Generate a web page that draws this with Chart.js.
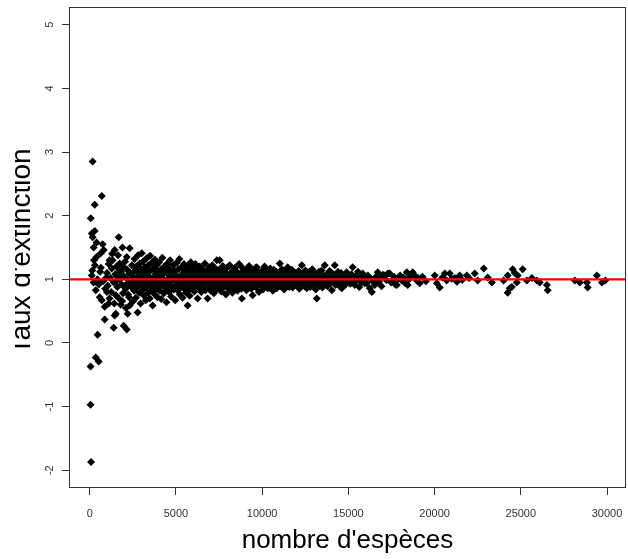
<!DOCTYPE html>
<html>
<head>
<meta charset="utf-8">
<title>Taux d'extinction</title>
<script src="https://cdn.jsdelivr.net/npm/chart.js"></script>
<style>
  body { margin: 0; background: #fff; }
  #wrap { width: 628px; height: 559px; }
</style>
</head>
<body>
<div id="wrap"><canvas id="tauxChart"></canvas></div>
<script>
// nombre d'espèces (x) et taux d'extinction (y), par tranches
const especes = [
  50, 50, 60, 80, 120, 120, 150, 170, 170, 230,
  230, 250, 290, 290, 300, 350, 350, 400, 400, 450,
  460, 520, 520, 580, 600, 640, 650, 700, 700, 750,
  780, 810, 870, 870, 900, 950,
  // 1000 - 2500
  1000, 1000, 1050, 1100, 1100, 1150, 1150, 1200, 1250, 1280,
  1300, 1330, 1390, 1400, 1420, 1450, 1450, 1480, 1510, 1520,
  1550, 1580, 1600, 1620, 1640, 1680, 1700, 1720, 1740, 1760,
  1800, 1820, 1850, 1880, 1900, 1930, 1950, 1970, 1990, 2020,
  2050, 2080, 2100, 2120, 2150, 2150, 2180, 2200, 2230, 2250,
  2280, 2300, 2320, 2320, 2350, 2380, 2420, 2450, 2470, 2500,
  // 2500 - 4000
  2520, 2550, 2580, 2600, 2620, 2650, 2680, 2700, 2720, 2750,
  2780, 2800, 2820, 2850, 2880, 2900, 2930, 2950, 2980, 3000,
  3020, 3050, 3080, 3100, 3130, 3150, 3180, 3200, 3230, 3250,
  3280, 3300, 3330, 3350, 3380, 3400, 3430, 3450, 3480, 3500,
  3530, 3550, 3580, 3600, 3630, 3650, 3680, 3700, 3730, 3750,
  3780, 3800, 3830, 3850, 3880, 3900, 3930, 3950, 3980,
  // 4000 - 6000
  4000, 4030, 4060, 4090, 4120, 4150, 4180, 4210, 4240, 4270,
  4300, 4330, 4360, 4390, 4420, 4450, 4480, 4510, 4540, 4570,
  4600, 4630, 4660, 4690, 4720, 4750, 4780, 4810, 4840, 4870,
  4900, 4930, 4960, 4990, 5020, 5050, 5080, 5110, 5140, 5170,
  5200, 5230, 5260, 5290, 5320, 5350, 5380, 5410, 5440, 5470,
  5500, 5530, 5560, 5590, 5620, 5650, 5680, 5680, 5710, 5740,
  5770, 5800, 5830, 5860, 5890, 5920, 5950, 5980,
  // 6000 - 9000
  6010, 6040, 6070, 6100, 6130, 6160, 6190, 6220, 6260, 6290,
  6320, 6350, 6380, 6410, 6440, 6470, 6500, 6530, 6560, 6590,
  6620, 6650, 6680, 6710, 6740, 6770, 6800, 6840, 6870, 6900,
  6930, 6960, 6990, 7020, 7050, 7080, 7110, 7140, 7170, 7200,
  7230, 7260, 7290, 7320, 7370, 7400, 7430, 7460, 7490, 7540,
  7570, 7600, 7630, 7660, 7690, 7720, 7750, 7780, 7810, 7840,
  7870, 7900, 7930, 7960, 7990, 8020, 8050, 8080, 8120, 8150,
  8180, 8210, 8240, 8270, 8300, 8330, 8360, 8390, 8420, 8450,
  8480, 8510, 8540, 8570, 8600, 8630, 8660, 8690, 8720, 8750,
  8790, 8820, 8820, 8850, 8880, 8910, 8940, 8970,
  // 9000 - 12000
  9000, 9030, 9060, 9090, 9120, 9150, 9180, 9210, 9240, 9270,
  9300, 9330, 9360, 9390, 9420, 9450, 9480, 9510, 9540, 9570,
  9600, 9630, 9660, 9690, 9720, 9750, 9780, 9810, 9860, 9890,
  9920, 9950, 9980, 10010, 10050, 10080, 10110, 10140, 10170, 10200,
  10230, 10270, 10300, 10330, 10360, 10390, 10440, 10470, 10500, 10530,
  10560, 10590, 10620, 10650, 10680, 10710, 10740, 10770, 10810, 10850,
  10880, 10910, 10940, 10970, 11020, 11050, 11080, 11110, 11150, 11190,
  11220, 11250, 11280, 11310, 11340, 11370, 11400, 11440, 11480, 11510,
  11540, 11570, 11600, 11640, 11680, 11720, 11770, 11800, 11840, 11880,
  11920, 11960,
  // 12000 - 15000
  12000, 12040, 12080, 12120, 12160, 12200, 12250, 12300, 12350, 12390,
  12430, 12470, 12510, 12550, 12590, 12630, 12670, 12710, 12750, 12790,
  12830, 12870, 12910, 12950, 12990, 13030, 13070, 13110, 13170, 13210,
  13250, 13290, 13330, 13370, 13410, 13450, 13490, 13540, 13580, 13630,
  13670, 13710, 13750, 13790, 13830, 13870, 13910, 13960, 14000, 14040,
  14080, 14120, 14170, 14210, 14250, 14300, 14350, 14400, 14450, 14500,
  14540, 14580, 14620, 14660, 14710, 14790, 14840, 14900, 14950,
  // 15000 - 20000
  15050, 15120, 15180, 15250, 15310, 15370, 15430, 15500, 15560, 15630,
  15700, 15760, 15830, 15900, 15950, 16070, 16130, 16240, 16300, 16360,
  16420, 16530, 16600, 16700, 16780, 16850, 16920, 17000, 17110, 17200,
  17290, 17400, 17480, 17570, 17650, 17720, 17810, 17900, 18000, 18100,
  18200, 18300, 18390, 18440, 18520, 18600, 18730, 18850, 18970, 19050,
  19140, 19300, 19500,
  // 20000 - 30000
  20010, 20130, 20300, 20450, 20590, 20700, 20880, 21000, 21170, 21300,
  21460, 21600, 21870, 22000, 22330, 22500, 22850, 23080, 23320, 24000,
  24240, 24240, 24360, 24480, 24530, 24650, 24770, 24820, 25110, 25350,
  25640, 25930, 26100, 26510, 26560, 28130, 28420, 28830, 28880, 29410,
  29700, 29900
];

const taux = [
  -0.37, -0.97, 1.96, -1.87, 1.06, 1.72, 1.14, 2.85, 1.66, 0.95,
  1.50, 1.30, 2.17, 1.76, 1.22, 0.83, -0.23, 1.58, 1.35, 1.00,
  0.13, 0.92, -0.29, 0.72, 1.12, 1.41, 1.18, 2.31, 0.67, 1.55,
  0.97, 1.46, 0.57, 0.37, 0.85, 1.02,
  // 1000 - 2500
  1.10, 0.80, 0.90, 0.62, 1.24, 1.30, 0.70, 1.02, 0.80, 1.17,
  1.40, 1.30, 0.24, 0.95, 0.62, 1.46, 0.43, 1.08, 0.46, 0.75,
  1.20, 0.98, 0.88, 1.05, 1.38, 1.66, 0.70, 1.14, 1.25, 1.00,
  0.60, 1.12, 0.92, 0.66, 1.50, 0.78, 1.20, 0.27, 1.05, 0.90,
  1.28, 0.85, 0.55, 1.02, 0.21, 1.35, 1.15, 0.46, 0.76, 0.95,
  0.72, 1.10, 1.49, 0.59, 0.92, 1.08, 0.88, 1.22, 0.99, 0.65,
  // 2500 - 4000
  1.05, 1.00, 0.82, 1.32, 1.14, 0.93, 0.71, 1.20, 1.02, 0.88,
  0.48, 1.38, 1.10, 0.96, 0.79, 1.25, 1.04, 0.62, 0.90, 1.16,
  1.41, 0.99, 0.84, 1.28, 1.08, 0.74, 0.94, 1.19, 1.00, 0.67,
  0.87, 1.33, 1.12, 0.97, 0.79, 1.22, 1.05, 0.91, 0.70, 1.37,
  1.14, 0.95, 0.82, 1.26, 1.02, 0.59, 0.89, 1.17, 1.00, 0.77,
  1.31, 0.93, 1.09, 0.85, 1.22, 0.98, 0.72, 1.13, 0.90,
  // 4000 - 6000
  1.05, 1.27, 0.82, 0.97, 1.15, 0.69, 1.02, 1.34, 0.90, 1.08,
  0.78, 1.20, 0.95, 1.12, 0.86, 0.64, 1.24, 1.00, 0.92, 1.17,
  0.80, 1.06, 1.30, 0.96, 0.73, 1.11, 0.88, 1.02, 1.22, 0.84,
  0.99, 1.14, 0.67, 1.07, 0.91, 1.26, 1.00, 0.82, 1.16, 0.94,
  1.32, 0.76, 1.04, 0.89, 1.19, 0.97, 0.71, 1.10, 0.86, 1.24,
  1.01, 0.93, 1.15, 0.79, 1.06, 0.90, 1.21, 0.59, 0.98, 0.83,
  1.12, 0.74, 1.03, 1.27, 0.92, 1.09, 0.85, 1.18,
  // 6000 - 9000
  0.96, 1.13, 0.81, 1.04, 1.24, 0.90, 1.07, 0.97, 0.70, 1.15,
  0.87, 1.02, 1.20, 0.93, 1.09, 0.80, 1.17, 0.99, 1.12, 0.86,
  1.05, 0.95, 1.25, 0.83, 1.08, 0.98, 1.14, 0.70, 1.01, 0.89,
  1.19, 0.94, 1.06, 0.82, 1.13, 0.97, 1.22, 0.88, 1.03, 0.78,
  1.10, 0.93, 1.17, 1.00, 1.30, 0.85, 1.07, 0.96, 1.15, 1.30,
  0.90, 1.04, 0.81, 1.11, 0.98, 1.21, 0.87, 1.06, 0.93, 1.16,
  1.01, 0.76, 1.09, 0.95, 1.19, 0.88, 1.04, 0.84, 1.22, 0.97,
  1.10, 0.91, 1.02, 0.79, 1.14, 0.94, 1.07, 0.86, 1.18, 0.99,
  1.05, 0.89, 1.12, 0.82, 1.03, 0.95, 1.24, 0.91, 1.08, 0.98,
  0.85, 0.70, 1.19, 1.04, 0.93, 1.13, 0.88, 1.00,
  // 9000 - 12000
  1.10, 0.94, 1.02, 0.83, 1.16, 0.97, 1.07, 0.88, 1.21, 1.00,
  0.91, 1.12, 0.85, 1.04, 0.96, 0.75, 1.15, 1.01, 0.89, 1.09,
  0.94, 1.18, 0.87, 1.19, 1.03, 0.92, 1.11, 0.80, 1.09, 0.97,
  1.05, 0.90, 1.13, 0.99, 0.84, 1.07, 0.95, 1.20, 0.89, 1.02,
  0.93, 1.14, 1.00, 0.86, 1.08, 0.96, 0.95, 1.17, 0.88, 1.04,
  0.91, 1.10, 0.82, 1.01, 1.15, 0.94, 1.06, 0.90, 1.12, 0.86,
  0.99, 1.08, 0.93, 1.03, 1.25, 0.89, 1.07, 0.97, 1.16, 1.14,
  0.92, 1.02, 0.84, 1.09, 0.95, 1.05, 0.90, 1.12, 1.19, 0.98,
  1.04, 0.88, 1.10, 0.94, 1.01, 1.15, 0.87, 1.06, 0.96, 1.11,
  0.91, 1.03,
  // 12000 - 15000
  1.08, 0.92, 1.00, 1.13, 0.85, 1.04, 0.95, 1.22, 1.09, 0.97,
  1.02, 0.89, 1.14, 0.99, 0.86, 1.06, 0.93, 1.11, 1.01, 0.88,
  1.07, 0.96, 1.16, 0.91, 1.03, 0.94, 1.09, 0.84, 0.70, 1.05,
  0.98, 1.12, 0.90, 1.02, 0.95, 1.14, 0.87, 1.06, 0.97, 1.22,
  1.01, 0.92, 1.08, 0.89, 1.04, 0.96, 1.13, 0.93, 1.02, 0.83,
  1.09, 0.97, 1.05, 1.22, 0.91, 1.07, 0.99, 1.12, 0.94, 1.03,
  0.88, 1.10, 0.86, 1.01, 0.95, 1.06, 0.92, 1.11, 0.98,
  // 15000 - 20000
  1.02, 0.93, 1.08, 1.19, 0.97, 0.91, 1.05, 0.99, 1.12, 0.88,
  1.03, 0.95, 1.09, 1.00, 0.94, 0.94, 1.06, 0.86, 1.01, 0.80,
  0.97, 0.91, 1.04, 1.11, 0.96, 1.02, 0.89, 1.07, 1.06, 0.99,
  1.09, 1.09, 0.95, 0.98, 1.04, 0.92, 0.91, 1.01, 1.06, 0.98,
  1.03, 0.94, 1.11, 0.91, 1.00, 1.05, 1.11, 1.06, 0.98, 1.02,
  0.94, 1.04, 0.97,
  // 20000 - 30000
  1.06, 0.94, 0.87, 1.03, 1.09, 0.98, 1.09, 1.01, 1.02, 0.96,
  1.06, 0.99, 1.06, 1.02, 1.09, 0.98, 1.17, 1.03, 0.95, 0.98,
  1.06, 0.79, 0.86, 0.88, 1.16, 1.10, 0.95, 1.06, 1.16, 0.98,
  1.02, 0.98, 0.95, 0.91, 0.83, 0.98, 0.95, 0.95, 0.87, 1.06,
  0.95, 0.98
];

const xTicks = [0, 5000, 10000, 15000, 20000, 25000, 30000];
const yTicks = [-2, -1, 0, 1, 2, 3, 4, 5];
const tauxReference = 1;
const xMin = -1200, xMax = 31100;
const yMin = -2.28, yMax = 5.28;

const police = '"Liberation Sans", Arial, sans-serif';
const axeCouleur = '#333';

const points = especes.map((x, i) => ({ x: x, y: taux[i] }));

// cadre, étiquettes verticales de l'axe y et titre de l'axe y
const cadreR = {
  id: 'cadreR',
  afterDraw(chart) {
    const ctx = chart.ctx;
    const a = chart.chartArea;
    const ys = chart.scales.y;
    ctx.save();
    ctx.strokeStyle = axeCouleur;
    ctx.lineWidth = 1;
    ctx.strokeRect(Math.round(a.left) + 0.5, Math.round(a.top) + 0.5,
      Math.round(a.right - a.left) - 1, Math.round(a.bottom - a.top) - 1);

    ctx.fillStyle = axeCouleur;
    ctx.font = '11px ' + police;
    ctx.textAlign = 'center';
    ctx.textBaseline = 'middle';
    ys.ticks.forEach(t => {
      ctx.save();
      ctx.translate(50, ys.getPixelForValue(t.value));
      ctx.rotate(-Math.PI / 2);
      ctx.fillText(String(t.value), 0, 0);
      ctx.restore();
    });

    // titre y, rogné à gauche
    ctx.beginPath();
    ctx.rect(15, 0, a.left - 15, chart.height);
    ctx.clip();
    ctx.fillStyle = '#000';
    ctx.font = '28px ' + police;
    ctx.textBaseline = 'alphabetic';
    ctx.translate(30, (a.top + a.bottom) / 2 + 4);
    ctx.rotate(-Math.PI / 2);
    ctx.fillText("Taux d'extinction", 0, 0);
    ctx.restore();
  }
};

new Chart(document.getElementById('tauxChart'), {
  type: 'scatter',
  data: {
    datasets: [
      {
        type: 'line',
        data: [{ x: xMin, y: tauxReference }, { x: xMax, y: tauxReference }],
        borderColor: '#ff0000',
        borderWidth: 2.2,
        pointRadius: 0,
        order: 0
      },
      {
        data: points,
        backgroundColor: '#000',
        borderWidth: 0,
        pointStyle: 'rectRot',
        pointRadius: 4,
        order: 1
      }
    ]
  },
  options: {
    responsive: true,
    maintainAspectRatio: false,
    animation: false,
    layout: { autoPadding: false, padding: { top: 7, right: 2, left: 0, bottom: 0 } },
    plugins: {
      legend: { display: false },
      tooltip: { enabled: false }
    },
    scales: {
      x: {
        type: 'linear',
        min: xMin,
        max: xMax,
        afterBuildTicks: s => { s.ticks = xTicks.map(v => ({ value: v })); },
        afterFit: s => { s.height = 71; s.paddingLeft = 0; s.paddingRight = 0; },
        grid: { drawOnChartArea: false, drawTicks: true, tickLength: 7, tickColor: axeCouleur },
        border: { display: false },
        ticks: {
          padding: 12,
          color: axeCouleur,
          font: { family: police, size: 11 },
          callback: v => String(v)
        },
        title: {
          display: true,
          text: "nombre d'espèces",
          color: '#000',
          font: { family: police, size: 26 },
          padding: { top: 0, bottom: 3 }
        }
      },
      y: {
        type: 'linear',
        min: yMin,
        max: yMax,
        afterBuildTicks: s => { s.ticks = yTicks.map(v => ({ value: v })); },
        afterFit: s => { s.width = 69; s.paddingTop = 0; s.paddingBottom = 0; },
        grid: { drawOnChartArea: false, drawTicks: true, tickLength: 7, tickColor: axeCouleur },
        border: { display: false },
        ticks: { display: false }
      }
    }
  },
  plugins: [cadreR]
});
</script>
</body>
</html>
